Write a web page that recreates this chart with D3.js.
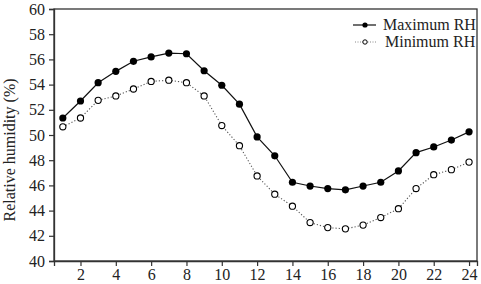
<!DOCTYPE html>
<html><head><meta charset="utf-8">
<script src="https://cdn.jsdelivr.net/npm/d3@7"></script>
<style>body{margin:0;background:#fff}svg{display:block}text{font-family:"Liberation Serif","Times New Roman",serif;fill:#222}</style>
</head><body>
<script>
const hours = [1,2,3,4,5,6,7,8,9,10,11,12,13,14,15,16,17,18,19,20,21,22,23,24];
const maxRH = [51.35,52.7,54.15,55.05,55.85,56.2,56.5,56.45,55.1,53.95,52.45,49.85,48.35,46.25,45.95,45.75,45.65,45.95,46.25,47.15,48.6,49.05,49.6,50.25];
const minRH = [50.65,51.35,52.75,53.1,53.65,54.25,54.35,54.15,53.1,50.75,49.15,46.75,45.3,44.35,43.05,42.65,42.55,42.85,43.45,44.15,45.75,46.85,47.25,47.85];
const xTicks = [2,4,6,8,10,12,14,16,18,20,22,24];
const yTicks = [40,42,44,46,48,50,52,54,56,58,60];
const seriesNames = ["Maximum RH","Minimum RH"];

const W=481,H=284;
const svg=d3.select("body").append("svg").attr("width",W).attr("height",H);
const L=54,R=477,T=9,B=261;
const x=d3.scaleLinear().domain([0.5,24.45]).range([L,R]);
const y=d3.scaleLinear().domain([40,60]).range([B,T]);

// frame
svg.append("rect").attr("x",L).attr("y",T).attr("width",R-L).attr("height",B-T)
  .attr("fill","none").attr("stroke","#333").attr("stroke-width",1.3);

const xa=svg.append("g").attr("transform",`translate(0,${B})`)
  .call(d3.axisBottom(x).tickValues(xTicks).tickSize(5).tickPadding(3).tickFormat(d3.format("d")));
const ya=svg.append("g").attr("transform",`translate(${L},0)`)
  .call(d3.axisLeft(y).tickValues(yTicks).tickSize(5).tickPadding(4).tickFormat(d3.format("d")));
[xa,ya].forEach(g=>{
  g.select(".domain").attr("stroke","#333").attr("stroke-width",1.3);
  g.selectAll(".tick line").attr("stroke","#333").attr("stroke-width",1.2);
  g.selectAll(".tick text").attr("font-size",16).attr("font-family","Liberation Serif, serif").attr("fill","#222");
});

svg.append("text").attr("transform",`translate(15,150) rotate(-90)`)
  .attr("text-anchor","middle").attr("font-size",16).text("Relative humidity (%)");

const line=d3.line().x((d,i)=>x(hours[i])).y(d=>y(d));
svg.append("path").datum(maxRH).attr("d",line).attr("fill","none").attr("stroke","#111").attr("stroke-width",1.2);
svg.append("path").datum(minRH).attr("d",line).attr("fill","none").attr("stroke","#555").attr("stroke-width",1.1).attr("stroke-dasharray","1.2,2");

svg.selectAll(".mx").data(maxRH).enter().append("circle")
  .attr("cx",(d,i)=>x(hours[i])).attr("cy",d=>y(d)).attr("r",3.6).attr("fill","#000");
svg.selectAll(".mn").data(minRH).enter().append("circle")
  .attr("cx",(d,i)=>x(hours[i])).attr("cy",d=>y(d)).attr("r",3.1).attr("fill","#fff").attr("stroke","#000").attr("stroke-width",1.1);

// legend
const lg=svg.append("g");
lg.append("line").attr("x1",353).attr("x2",376).attr("y1",25).attr("y2",25).attr("stroke","#111").attr("stroke-width",1.2);
lg.append("circle").attr("cx",365).attr("cy",25).attr("r",2.6).attr("fill","#000");
lg.append("text").attr("x",383).attr("y",30).attr("font-size",16).text(seriesNames[0]);
lg.append("line").attr("x1",355).attr("x2",376).attr("y1",42).attr("y2",42).attr("stroke","#888").attr("stroke-width",1).attr("stroke-dasharray","1,1.5");
lg.append("circle").attr("cx",365).attr("cy",42).attr("r",2.2).attr("fill","#fff").attr("stroke","#000").attr("stroke-width",1);
lg.append("text").attr("x",385).attr("y",47).attr("font-size",16).text(seriesNames[1]);
</script>
</body></html>
